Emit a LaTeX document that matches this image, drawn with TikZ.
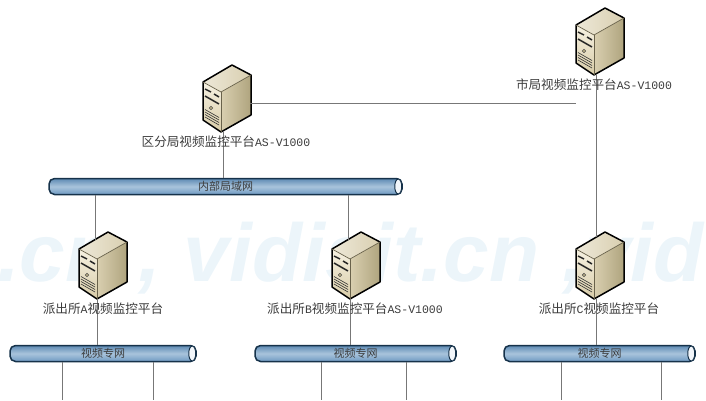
\documentclass[tikz,border=0pt]{standalone}
\usepackage{fontspec}
\usepackage{xcolor}
\usetikzlibrary{shapes.geometric}
\newfontfamily\cjk{Noto Sans CJK SC}
\newfontfamily\lat{Liberation Mono}
\newfontfamily\markfont{Liberation Sans}
\definecolor{bartop}{HTML}{5E8AB4}
\definecolor{barmid}{HTML}{A9C4DC}
\definecolor{barlow}{HTML}{6F9AC2}
\definecolor{bardark}{HTML}{16324A}
\definecolor{linegray}{HTML}{777777}
\definecolor{labelgray}{HTML}{3C3C3C}
\definecolor{markblue}{HTML}{ECF5FA}
\definecolor{srvhigh}{HTML}{F6F1E2}
\definecolor{srvface}{HTML}{D8CCA8}
\definecolor{srvside}{HTML}{D9CFB0}
\definecolor{srvshade}{HTML}{AFA47E}
\definecolor{srvroof}{HTML}{EDE8D8}
\newcommand{\latin}[1]{{\lat\fontsize{11.5}{14}\selectfont #1}}
\tikzset{
  link/.style={draw=linegray,line width=1pt},
  netbar/.style={draw=bardark,line width=1.5pt,rounded corners=5.5pt,minimum height=16pt,
    inner sep=0pt,top color=bartop,bottom color=barlow,middle color=barmid,
    text=labelgray,font=\cjk\fontsize{11}{13}\selectfont},
  barcap/.style={draw=bardark,line width=1pt,fill=white!85!barmid,ellipse,minimum width=7pt,minimum height=15pt,inner sep=0pt},
  srvlabel/.style={text=labelgray,inner sep=0pt,font=\cjk\fontsize{12.6}{14}\selectfont},
  pics/server/.style={code={
    \path[top color=srvhigh,bottom color=srvface] (-29,17) -- (-11,27) -- (-11,67) -- (-29,55) -- cycle;
    \path[left color=srvside,right color=srvshade] (-11,27) -- (19,10) -- (19,50) -- (-11,67) -- cycle;
    \path[left color=srvroof,right color=srvside] (0,0) -- (19,10) -- (-11,27) -- (-29,17) -- cycle;
    \draw[black,line width=1.5pt,line join=round] (0,0) -- (19,10) -- (19,50) -- (-11,67) -- (-29,55) -- (-29,17) -- cycle;
    \draw[srvshade!60!black,line width=0.7pt,line join=round] (-29,17) -- (-11,27) -- (19,10);
    \draw[srvshade!60!black,line width=0.7pt] (-11,27) -- (-11,67);
    % front panel
    \draw[black!85,line width=1.5pt] (-27,24) -- (-21,27);
    \draw[black!85,line width=1.5pt] (-18,29) -- (-13,32);
    \draw[black!85,line width=1.5pt] (-27,31) -- (-13,39);
    \draw[black!70,fill=srvshade] (-21,43) circle (1.8);
    \foreach \v in {0,2.5,5,7.5}{
      \draw[black!80,line width=0.6pt] (-27,52-\v) -- (-13,60-\v);
    }
    \coordinate (-bot) at (-11,67);
    \coordinate (-botc) at (-8.5,66);
    \coordinate (-ina) at (-13,7.6);
    \coordinate (-inc) at (-8.5,5);
  }}
}

\begin{document}
\begin{tikzpicture}[x=1pt,y=-1pt]
  \useasboundingbox (0,0) rectangle (706,400);

  % watermark
  \begin{scope}
    \clip (0,0) rectangle (706,400);
    \node[anchor=base west,inner sep=0pt,text=markblue,font=\markfont\bfseries\itshape\fontsize{82}{90}\selectfont] (wmark) at (-3,281) {.cn , vidisit.cn ,vid};
  \end{scope}

  % bars
  \node[netbar,minimum width=353pt] (lanbar) at (225.5,186.5) {内部局域网};
  \node[netbar,minimum width=186pt] (netA) at (103,353.5) {视频专网};
  \node[netbar,minimum width=201pt] (netB) at (355.5,353.5) {视频专网};
  \node[netbar,minimum width=191pt] (netC) at (599.5,353.5) {视频专网};
  \foreach \b in {lanbar,netA,netB,netC}{
    \node[barcap,xshift=-4.5pt] (\b cap) at (\b.east) {};
  }

  % servers
  \pic (srvD) at (232,65) {server};
  \pic (srvS) at (605,8) {server};
  \pic (srvA) at (108,232) {server};
  \pic (srvB) at (361,232) {server};
  \pic (srvC) at (605,232) {server};

  % free ends at the bottom
  \foreach \x/\n in {62/a,153/b,321/c,406/d,561/e,661/f}{
    \coordinate (drop\n) at (\x,400);
  }
  \coordinate (joinD) at (250,103);
  \coordinate (joinS) at (576,103);

  % connectors
  \draw[link] (srvD-botc) -- (lanbar.north -| srvD-botc);
  \draw[link] (joinD) -- (joinS);
  \draw[link] (srvS-botc) -- (srvC-inc);
  \draw[link] (lanbar.south -| srvA-ina) -- (srvA-ina);
  \draw[link] (lanbar.south -| srvB-ina) -- (srvB-ina);
  \draw[link] (srvA-bot) -- (netA.north -| srvA-bot);
  \draw[link] (srvB-bot) -- (netB.north -| srvB-bot);
  \draw[link] (srvC-botc) -- (netC.north -| srvC-botc);
  \foreach \n/\b in {a/netA,b/netA,c/netB,d/netB,e/netC,f/netC}{
    \draw[link] (\b.south -| drop\n) -- (drop\n);
  }

  % labels
  \node[srvlabel] (labD) at (226,142) {区分局视频监控平台\latin{AS-V1000}};
  \node[srvlabel] (labS) at (594,85) {市局视频监控平台\latin{AS-V1000}};
  \node[srvlabel] (labA) at (103,309) {派出所\latin{A}视频监控平台};
  \node[srvlabel] (labB) at (355,309) {派出所\latin{B}视频监控平台\latin{AS-V1000}};
  \node[srvlabel] (labC) at (599,309) {派出所\latin{C}视频监控平台};
\end{tikzpicture}
\end{document}
